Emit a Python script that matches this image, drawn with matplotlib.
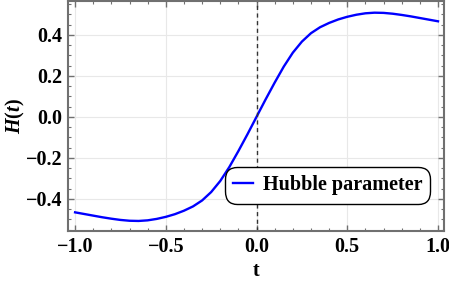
import numpy as np
import matplotlib
matplotlib.use("Agg")
import matplotlib.pyplot as plt
from matplotlib.ticker import MultipleLocator

# values
t_neg = [-1.0, -0.95, -0.9, -0.85, -0.8, -0.75, -0.7, -0.65, -0.6, -0.55, -0.5,
         -0.45, -0.4, -0.35, -0.3, -0.25, -0.2, -0.15, -0.1, -0.05, 0.0]
h_neg = [-0.466, -0.474, -0.482, -0.490, -0.497, -0.503, -0.507, -0.508, -0.505, -0.498, -0.488,
         -0.475, -0.458, -0.437, -0.408, -0.367, -0.313, -0.245, -0.167, -0.085, 0.0]
t_pos = [0.05, 0.1, 0.15, 0.2, 0.25, 0.3, 0.35, 0.4, 0.45, 0.5,
         0.55, 0.6, 0.65, 0.7, 0.75, 0.8, 0.85, 0.9, 0.95, 1.0]
h_pos = [0.085, 0.167, 0.245, 0.313, 0.367, 0.408, 0.437, 0.458, 0.475, 0.488,
         0.498, 0.505, 0.508, 0.507, 0.503, 0.497, 0.490, 0.482, 0.474, 0.466]

t = t_neg + t_pos
h = h_neg + h_pos

xticks = [-1.0, -0.5, 0.0, 0.5, 1.0]
yticks = [-0.4, -0.2, 0.0, 0.2, 0.4]

plt.rcParams['font.family'] = ['Liberation Serif', 'DejaVu Serif']
plt.rcParams['mathtext.fontset'] = 'custom'
plt.rcParams['mathtext.it'] = 'Liberation Serif:italic:bold'
plt.rcParams['mathtext.rm'] = 'Liberation Serif:bold'

fig = plt.figure(figsize=(4.49, 2.85), dpi=100)
ax = fig.add_axes([68 / 449, 54 / 285, 376 / 449, 230 / 285])

ax.plot(t, h, color='#0000ff', lw=1.7, label='Hubble parameter')
ax.axvline(0, color='#333333', ls=(0, (3, 2.5)), lw=1.0)

ax.set_xlim(-1.039, 1.033)
ax.set_ylim(-0.557, 0.565)
ax.set_xticks(xticks)
ax.set_yticks(yticks)
ax.xaxis.set_minor_locator(MultipleLocator(0.1))
ax.yaxis.set_minor_locator(MultipleLocator(0.05))
ax.set_xticklabels([f"{v:.1f}".replace('-', '\u2212') for v in xticks])
ax.set_yticklabels([f"{v:.1f}".replace('-', '\u2212') for v in yticks])

ax.grid(True, which='major', color='#e8e8e8', lw=0.8)
ax.set_axisbelow(True)
for s in ax.spines.values():
    s.set_color('#707070')
    s.set_linewidth(1.5)
ax.tick_params(which='both', direction='in', top=True, right=True,
               color='#707070', labelsize=14.5)
ax.tick_params(which='major', length=4, width=1.0, pad=4)
ax.tick_params(which='minor', length=2.5, width=0.8)
for lab in ax.get_xticklabels() + ax.get_yticklabels():
    lab.set_fontweight('bold')

ax.set_xlabel('t', fontsize=14.5, fontweight='bold', labelpad=3)
ax.set_ylabel(r'$H(t)$', fontsize=14.5)
ax.yaxis.set_label_coords(-0.11, 0.5)

leg = ax.legend(loc='center', bbox_to_anchor=(0.69, 0.198), fancybox=True,
                frameon=True, handlelength=1.0, handletextpad=0.5,
                borderpad=0.4, prop={'weight': 'bold', 'size': 14.5})
leg.get_frame().set_edgecolor('black')
leg.get_frame().set_linewidth(1.0)
leg.get_frame().set_alpha(1.0)
leg.get_frame().set_boxstyle('round,pad=0,rounding_size=0.6')

fig.savefig('out.png', dpi=100)
